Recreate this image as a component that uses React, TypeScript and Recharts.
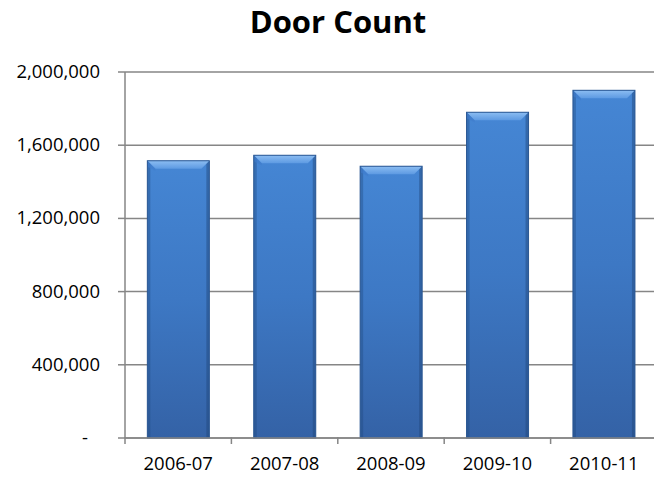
import { BarChart, Bar, XAxis, YAxis, CartesianGrid } from 'recharts';

const categories = ['2006-07', '2007-08', '2008-09', '2009-10', '2010-11'];
const doorCounts = [1515000, 1545000, 1485000, 1780000, 1900000];
const yTicks = [0, 400000, 800000, 1200000, 1600000, 2000000];

const data = categories.map((season, i) => ({ season, doors: doorCounts[i] }));

const CHART_W = 660;
const CHART_H = 478;
const MARGIN = { top: 72, right: 3, bottom: 0, left: 0 };
const Y_AXIS_W = 125;
const halfBand = (CHART_W - MARGIN.left - MARGIN.right - Y_AXIS_W) / categories.length / 2;

const AXIS_GRAY = '#868686';
const FONT = '"Open Sans", sans-serif';

const fmt = (v: number) => (v === 0 ? '-' : v.toLocaleString('en-US'));

function YTick(props: any) {
  const { x, y, payload } = props;
  const isZero = payload.value === 0;
  return (
    <text
      x={x - (isZero ? 12 : 0)}
      y={y}
      dy={6}
      textAnchor="end"
      fontFamily={FONT}
      fontSize={18.5}
      fill="#000"
    >
      {fmt(payload.value)}
    </text>
  );
}

function XTick(props: any) {
  const { x, y, payload, index } = props;
  const axisY = y - 9;
  return (
    <g>
      <line x1={x - halfBand} y1={axisY} x2={x - halfBand} y2={axisY + 7} stroke={AXIS_GRAY} strokeWidth={1.5} />
      {index === categories.length - 1 && (
        <line x1={x + halfBand} y1={axisY} x2={x + halfBand} y2={axisY + 7} stroke={AXIS_GRAY} strokeWidth={1.5} />
      )}
      <text x={x} y={axisY} dy={33} textAnchor="middle" fontFamily={FONT} fontSize={18.5} fill="#000">
        {payload.value}
      </text>
    </g>
  );
}

function BevelBar(props: any) {
  const { x, y, width, height } = props;
  if (!height || height <= 0) return null;
  const b = 8;
  return (
    <g>
      <rect x={x} y={y} width={width} height={height} fill="url(#barGrad)" />
      {/* side shading */}
      <rect x={x} y={y} width={3} height={height} fill="#1e4478" opacity={0.35} />
      <rect x={x + width - 3} y={y} width={3} height={height} fill="#1e4478" opacity={0.45} />
      {/* top bevel */}
      <polygon
        points={`${x},${y} ${x + width},${y} ${x + width - b},${y + b} ${x + b},${y + b}`}
        fill="url(#bevelGrad)"
      />
      <polygon points={`${x},${y} ${x + b},${y + b} ${x + b},${y + b + 2} ${x},${y + 6}`} fill="#3f7ccb" opacity={0.6} />
      <rect x={x} y={y} width={width} height={height} fill="none" stroke="#2a5793" strokeWidth={1} />
    </g>
  );
}

export default function App() {
  return (
    <div style={{ position: 'absolute', left: 0, top: 0, width: 654, height: 478, overflow: 'hidden', background: '#fff' }}>
      <div
        style={{
          position: 'absolute',
          left: 0,
          top: 6,
          width: 676,
          textAlign: 'center',
          fontFamily: FONT,
          fontWeight: 700,
          fontSize: 31,
          lineHeight: '30px',
          color: '#000',
        }}
      >
        Door Count
      </div>
      <BarChart width={CHART_W} height={CHART_H} data={data} margin={MARGIN} barCategoryGap="21%">
        <defs>
          <linearGradient id="barGrad" x1="0" y1="0" x2="0" y2="1">
            <stop offset="0%" stopColor="#4586d4" />
            <stop offset="50%" stopColor="#3d78c4" />
            <stop offset="100%" stopColor="#3462a6" />
          </linearGradient>
          <linearGradient id="bevelGrad" x1="0" y1="0" x2="0" y2="1">
            <stop offset="0%" stopColor="#8cbdf2" />
            <stop offset="100%" stopColor="#5d9ae2" />
          </linearGradient>
        </defs>
        <CartesianGrid vertical={false} stroke={AXIS_GRAY} strokeWidth={1.5} />
        <XAxis
          dataKey="season"
          height={40}
          axisLine={{ stroke: AXIS_GRAY, strokeWidth: 1.5 }}
          tickLine={false}
          tick={<XTick />}
          interval={0}
        />
        <YAxis
          width={Y_AXIS_W}
          domain={[0, 2000000]}
          ticks={yTicks}
          interval={0}
          axisLine={{ stroke: AXIS_GRAY, strokeWidth: 1.5 }}
          tickLine={{ stroke: AXIS_GRAY, strokeWidth: 1.5 }}
          tickSize={7}
          tickMargin={18}
          tick={<YTick />}
        />
        <Bar dataKey="doors" shape={<BevelBar />} isAnimationActive={false} />
      </BarChart>
    </div>
  );
}
